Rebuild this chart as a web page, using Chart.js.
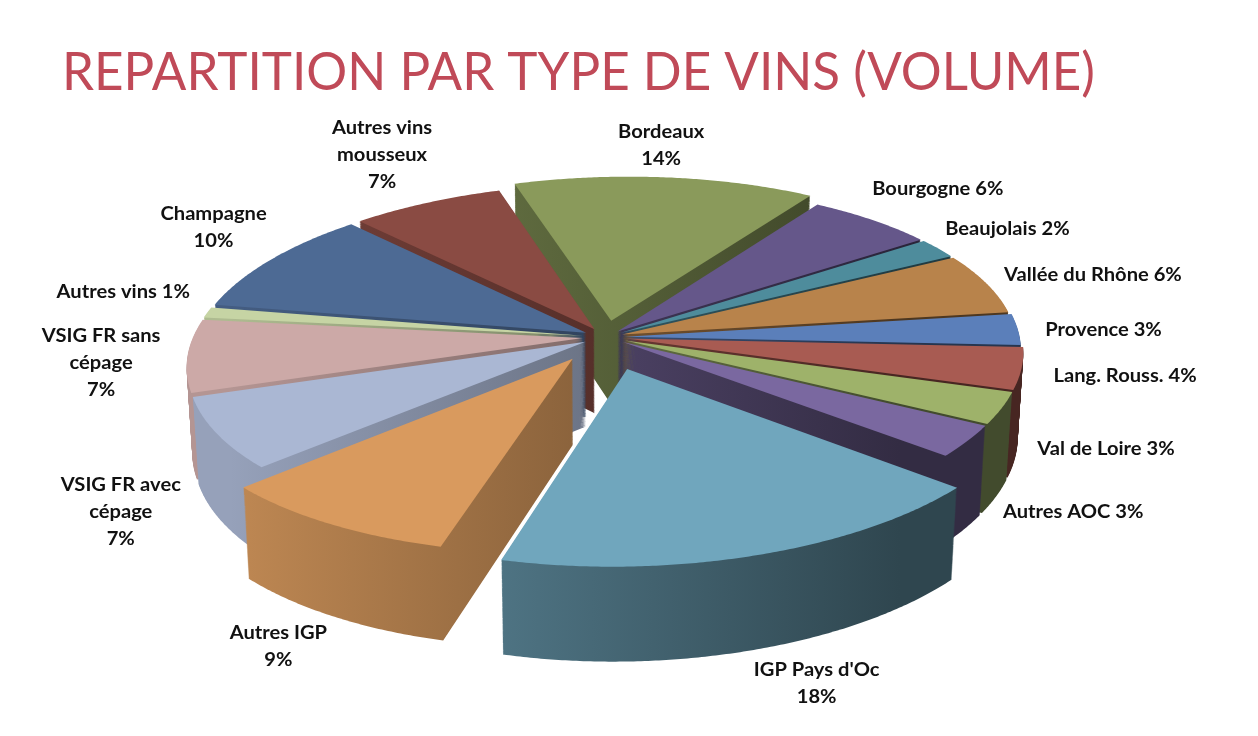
<!DOCTYPE html>
<html><head><meta charset="utf-8">
<script src="https://cdn.jsdelivr.net/npm/chart.js@4"></script>
<style>html,body{margin:0;padding:0;background:#fff}canvas{display:block}</style>
</head><body>
<canvas id="c" width="1258" height="736"></canvas>
<script>
// ---- data ----
const chartTitle = 'REPARTITION PAR TYPE DE VINS (VOLUME)';
const categories = ['Bordeaux','Bourgogne','Beaujolais','Vallée du Rhône','Provence','Lang. Rouss.','Val de Loire','Autres AOC',"IGP Pays d'Oc",'Autres IGP','VSIG FR avec\ncépage','VSIG FR sans\ncépage','Autres vins','Champagne','Autres vins\nmousseux'];
const shares = [14,6,2,6,3,4,3,3,18,9,7,7,1,10,7];

// ---- style ----
const colors = ['#8a9a5b','#65578a','#4e8c9c','#b8834b','#5b7fba','#a85b52','#9eb26a','#7a68a0','#70a6bd','#d99a5e','#aab7d3','#cca9a7','#c6d4a4','#4d6a94','#8a4b43'];
const pctOnNewLine = [true,false,false,false,false,false,false,false,true,true,true,true,false,true,true];
const explode = [0.10,0.045,0.045,0.045,0.05,0.056,0.056,0.056,0.20,0.15,0.056,0.056,0.056,0.056,0.056];

// ---- 3D view ----
const CX = 605, CY = 337, S = 393, SPHI = 0.42, CPHI = Math.sqrt(1 - SPHI*SPHI), DIST = 7.49, H = 0.24, SHEAR = 0.02;
function proj(u, v, z){
  const sc = DIST / (DIST - v*CPHI - z*SPHI);
  const x = S*u*sc, y = S*(v*SPHI - z*CPHI)*sc;
  return [CX + x, CY + y - SHEAR*x];
}
function shade(hex, f){
  const n = parseInt(hex.slice(1),16);
  const r=(n>>16)&255, g=(n>>8)&255, b=n&255;
  return `rgb(${Math.round(r*f)},${Math.round(g*f)},${Math.round(b*f)})`;
}

const pie3d = {
  id: 'pie3d',
  beforeDatasetsDraw(chart){
    const ctx = chart.ctx;
    const arcs = chart.getDatasetMeta(0).data;
    const items = arcs.map((a,i)=>({a, i, mid:(a.startAngle + a.endAngle)/2}));
    items.sort((p,q)=> Math.sin(p.mid) - Math.sin(q.mid));
    for (const {a, i, mid} of items){
      const ou = Math.cos(mid)*explode[i], ov = Math.sin(mid)*explode[i];
      const n = Math.max(4, Math.ceil((a.endAngle - a.startAngle) / 0.008));
      const ring = [];
      for (let k = 0; k <= n; k++){
        const t = a.startAngle + (a.endAngle - a.startAngle)*k/n;
        ring.push([ou + Math.cos(t), ov + Math.sin(t)]);
      }
      const path = z => {
        ctx.beginPath();
        const p0 = proj(ou, ov, z); ctx.moveTo(p0[0], p0[1]);
        for (const [u,v] of ring){ const p = proj(u, v, z); ctx.lineTo(p[0], p[1]); }
        ctx.closePath();
      };
      const g = ctx.createLinearGradient(230, 0, 900, 0);
      g.addColorStop(0, shade(colors[i], 0.88));
      g.addColorStop(1, shade(colors[i], 0.42));
      ctx.fillStyle = g;
      const steps = 90;
      for (let k = steps; k >= 1; k--){ path(-H*k/steps); ctx.fill(); }
      ctx.fillStyle = a.options.backgroundColor;
      path(0); ctx.fill();
    }
    return false;
  },
  afterDraw(chart){
    const ctx = chart.ctx;
    // title
    ctx.save();
    ctx.font = '400 52px Lato';
    ctx.fillStyle = '#c04a58';
    ctx.textBaseline = 'alphabetic';
    const tw = ctx.measureText(chartTitle).width;
    ctx.translate(62, 90);
    ctx.scale(1033 / tw, 1);
    ctx.fillText(chartTitle, 0, 0);
    ctx.restore();
    // labels
    const arcs = chart.getDatasetMeta(0).data;
    ctx.save();
    ctx.font = 'bold 19px Lato';
    ctx.fillStyle = '#111';
    ctx.textBaseline = 'middle';
    ctx.textAlign = 'center';
    const LH = 27, X0 = 605, Y0 = 330, WX = 1.06;
    arcs.forEach((a, i) => {
      const mid = (a.startAngle + a.endAngle) / 2;
      const s = Math.cos(mid), c = -Math.sin(mid);
      const lines = categories[i].split('\n');
      const pct = shares[i] + '%';
      if (pctOnNewLine[i]) lines.push(pct); else lines[lines.length-1] += ' ' + pct;
      const bw = WX * Math.max(...lines.map(t => ctx.measureText(t).width));
      const bh = lines.length * LH;
      const L = 440 - 90*c;
      const xe = X0 + L*s;
      const r = 1 + explode[i];
      let yc, left;
      if (Math.abs(s) < 0.3){
        if (c >= 0){
          const p = proj(r*Math.cos(mid), r*Math.sin(mid), 0);
          yc = p[1] - 5 - bh/2; left = xe - bw/2;
        } else {
          const p = proj(r*Math.cos(mid), r*Math.sin(mid), -H);
          yc = p[1] + 6 + bh/2;
          left = s > 0.1 ? p[0] : p[0] - bw/2;
        }
      } else {
        if (c >= 0) yc = Y0 - 200*c;
        else { const cc = -c; yc = Y0 + 300*cc + 70*cc*cc - 25*s*Math.min(1, 10*cc); }
        left = s > 0 ? xe : xe - bw;
      }
      lines.forEach((t, k) => {
        ctx.save();
        ctx.translate(left + bw/2, yc + (k - (lines.length-1)/2) * LH);
        ctx.scale(WX, 1);
        ctx.fillText(t, 0, 0);
        ctx.restore();
      });
    });
    ctx.restore();
  }
};

new Chart(document.getElementById('c'), {
  type: 'pie',
  data: { labels: categories, datasets: [{ data: shares, backgroundColor: colors, borderWidth: 0 }] },
  options: {
    responsive: false,
    animation: false,
    rotation: -16,
    layout: { padding: 20 },
    plugins: { legend: { display: false }, tooltip: { enabled: false }, title: { display: false } }
  },
  plugins: [pie3d]
});
</script>
</body></html>
